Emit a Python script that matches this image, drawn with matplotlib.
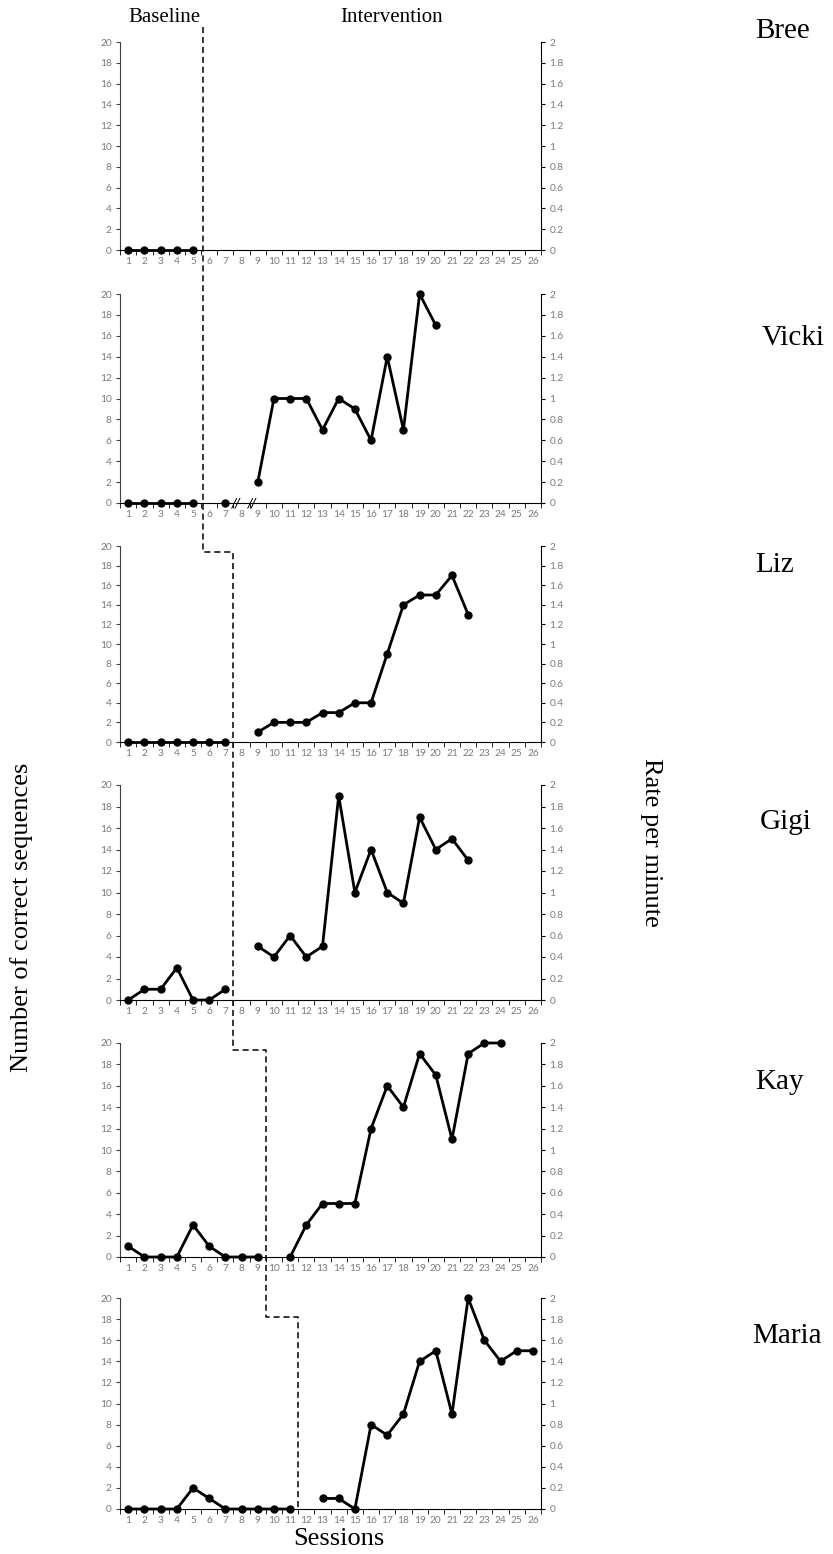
import matplotlib
matplotlib.use('Agg')
import matplotlib.pyplot as plt
from matplotlib.lines import Line2D
import numpy as np

# sessions on the x axis
sessions = list(range(1, 27))
names = ['Bree', 'Vicki', 'Liz', 'Gigi', 'Kay', 'Maria']

# baseline phase (number of correct sequences)
base_x = [
    [1, 2, 3, 4, 5],
    [1, 2, 3, 4, 5],
    [1, 2, 3, 4, 5, 6, 7],
    [1, 2, 3, 4, 5, 6, 7],
    [1, 2, 3, 4, 5, 6, 7, 8, 9],
    [1, 2, 3, 4, 5, 6, 7, 8, 9, 10, 11],
]
base_y = [
    [0, 0, 0, 0, 0],
    [0, 0, 0, 0, 0],
    [0, 0, 0, 0, 0, 0, 0],
    [0, 1, 1, 3, 0, 0, 1],
    [1, 0, 0, 0, 3, 1, 0, 0, 0],
    [0, 0, 0, 0, 2, 1, 0, 0, 0, 0, 0],
]

# Vicki's lone probe after the phase line
vicki_probe_x = [7]
vicki_probe_y = [0]

# intervention phase
int_x = [
    [],
    [9, 10, 11, 12, 13, 14, 15, 16, 17, 18, 19, 20],
    [9, 10, 11, 12, 13, 14, 15, 16, 17, 18, 19, 20, 21, 22],
    [9, 10, 11, 12, 13, 14, 15, 16, 17, 18, 19, 20, 21, 22],
    [11, 12, 13, 14, 15, 16, 17, 18, 19, 20, 21, 22, 23, 24],
    [13, 14, 15, 16, 17, 18, 19, 20, 21, 22, 23, 24, 25, 26],
]
int_y = [
    [],
    [2, 10, 10, 10, 7, 10, 9, 6, 14, 7, 20, 17],
    [1, 2, 2, 2, 3, 3, 4, 4, 9, 14, 15, 15, 17, 13],
    [5, 4, 6, 4, 5, 19, 10, 14, 10, 9, 17, 14, 15, 13],
    [0, 3, 5, 5, 5, 12, 16, 14, 19, 17, 11, 19, 20, 20],
    [1, 1, 0, 8, 7, 9, 14, 15, 9, 20, 16, 14, 15, 15],
]

left_ticks = list(range(0, 21, 2))
right_ticks = [0, 0.2, 0.4, 0.6, 0.8, 1, 1.2, 1.4, 1.6, 1.8, 2]

# phase change line: x positions and where it steps over
phase_x = [5.6, 7.5, 9.5, 11.5]
step_y = [19.4, 19.3, 18.2]

W, H = 833, 1554
fig = plt.figure(figsize=(W / 100, H / 100), dpi=100)

# panel extents in pixels (top, bottom)
panel_px = [(42, 250), (294, 503), (546, 742), (785, 1000), (1043, 1257), (1298, 1509)]
x0, x1 = 120.2, 541.0
name_pos = [(755, 31), (762, 338), (755, 565), (760, 822), (755, 1082), (752, 1336)]

tick_font = 'Lato'
serif = 'Liberation Serif'
gray = '#7a7a7a'
tsize = 7.3

axes = []
for i, (top, bot) in enumerate(panel_px):
    ax = fig.add_axes([x0 / W, 1 - bot / H, (x1 - x0) / W, (bot - top) / H])
    ax.set_xlim(0.5, 26.5)
    ax.set_ylim(0, 20)
    ax.spines['top'].set_visible(False)
    ax.spines['right'].set_visible(False)
    ax.spines['left'].set_color('#404040')
    ax.spines['bottom'].set_color('black')
    ax.set_yticks(left_ticks)
    ax.set_xticks(sessions)
    ax.set_xticks(np.arange(0.5, 27, 1), minor=True)
    ax.tick_params(axis='x', which='major', length=0, pad=5, labelsize=tsize,
                   labelcolor=gray)
    ax.tick_params(axis='x', which='minor', length=3.5, direction='out',
                   color='black')
    ax.tick_params(axis='y', length=3, direction='out', labelsize=tsize,
                   labelcolor=gray, color='#404040', pad=3)
    for lab in ax.get_xticklabels() + ax.get_yticklabels():
        lab.set_family(tick_font)

    ax2 = ax.twinx()
    ax2.set_ylim(0, 2)
    ax2.set_yticks(right_ticks)
    ax2.set_yticklabels([f'{v:g}' for v in right_ticks])
    for s in ['top', 'left', 'bottom']:
        ax2.spines[s].set_visible(False)
    ax2.spines['right'].set_color('black')
    ax2.tick_params(axis='y', length=3, direction='out', labelsize=tsize,
                    labelcolor=gray, pad=3)
    for lab in ax2.get_yticklabels():
        lab.set_family(tick_font)

    ax.plot(base_x[i], base_y[i], color='black', lw=2, marker='o', ms=5,
            clip_on=False, zorder=5)
    if int_x[i]:
        ax.plot(int_x[i], int_y[i], color='black', lw=2, marker='o', ms=5,
                clip_on=False, zorder=5)

    fig.text(name_pos[i][0] / W, 1 - name_pos[i][1] / H, names[i],
             family=serif, fontsize=21, ha='left', va='center')
    axes.append(ax)

# Vicki: probe point and axis break marks
axes[1].plot(vicki_probe_x, vicki_probe_y, color='black', marker='o', ms=5,
             ls='none', clip_on=False, zorder=5)
for bx in [7.65, 8.65]:
    axes[1].text(bx, 0, '//', fontsize=9, ha='center', va='center',
                 family='DejaVu Sans', style='italic', zorder=6)

# phase change line drawn across panels
pts = [(0, phase_x[0], 21.4),
       (2, phase_x[0], step_y[0]), (2, phase_x[1], step_y[0]),
       (4, phase_x[1], step_y[1]), (4, phase_x[2], step_y[1]),
       (5, phase_x[2], step_y[2]), (5, phase_x[3], step_y[2]),
       (5, phase_x[3], 0)]
inv = fig.transFigure.inverted()
fx, fy = [], []
for k, px, py in pts:
    X, Y = inv.transform(axes[k].transData.transform((px, py)))
    fx.append(X)
    fy.append(Y)
fig.add_artist(Line2D(fx, fy, transform=fig.transFigure, color='black',
                      lw=1.1, ls=(0, (4, 2.5)), zorder=10))

# titles and axis labels
fig.text(164 / W, 1 - 17 / H, 'Baseline', family=serif, fontsize=15,
         ha='center', va='center')
fig.text(392 / W, 1 - 17 / H, 'Intervention', family=serif, fontsize=15,
         ha='center', va='center')
fig.text(339 / W, 1 - 1539 / H, 'Sessions', family=serif, fontsize=19,
         ha='center', va='center')
fig.text(22 / W, 1 - 917 / H, 'Number of correct sequences', family=serif,
         fontsize=19, rotation=90, ha='center', va='center')
fig.text(651 / W, 1 - 842 / H, 'Rate per minute', family=serif,
         fontsize=19, rotation=-90, ha='center', va='center')

fig.savefig('out.png', dpi=100, facecolor='white')
